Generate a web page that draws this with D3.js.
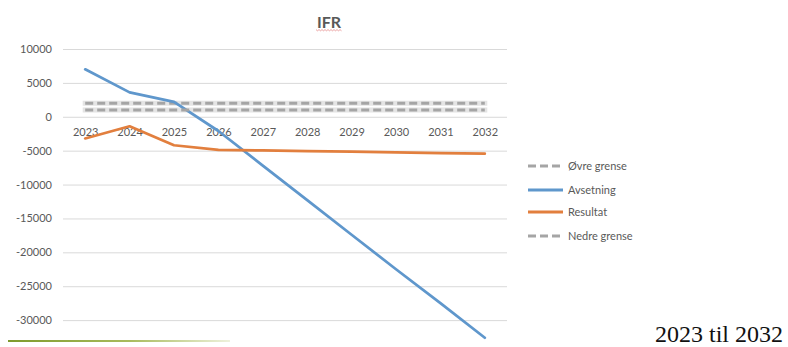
<!DOCTYPE html>
<html>
<head>
<meta charset="utf-8">
<script src="https://cdn.jsdelivr.net/npm/d3@7"></script>
<style>
  html, body { margin: 0; padding: 0; background: #fff; }
  svg { display: block; }
</style>
</head>
<body>
<svg id="chart" width="788" height="347"></svg>
<script>
// IFR projection 2023–2032
const years = ["2023","2024","2025","2026","2027","2028","2029","2030","2031","2032"];
const ovreGrense  = [2000, 2000, 2000, 2000, 2000, 2000, 2000, 2000, 2000, 2000];
const avsetning   = [7000, 3600, 2200, -2100, -7200, -12300, -17400, -22500, -27500, -32600];
const resultat    = [-3200, -1400, -4200, -4900, -4950, -5050, -5150, -5250, -5350, -5450];
const nedreGrense = [1000, 1000, 1000, 1000, 1000, 1000, 1000, 1000, 1000, 1000];
const yTicks = [10000, 5000, 0, -5000, -10000, -15000, -20000, -25000, -30000];

const series = [
  { name: "Øvre grense",  values: ovreGrense,  color: "#a5a5a5", dashed: true },
  { name: "Avsetning",    values: avsetning,   color: "#5f97cc", dashed: false },
  { name: "Resultat",     values: resultat,    color: "#e27f3e", dashed: false },
  { name: "Nedre grense", values: nedreGrense, color: "#a5a5a5", dashed: true }
];

const svg = d3.select("#chart");
const font = "Lato, 'Open Sans', sans-serif";
const textGray = "#595959";

// value axis runs to -35000, below the visible area
const x = d3.scalePoint().domain(years).range([63, 507]).padding(0.5);
const y = d3.scaleLinear().domain([-35000, 10000]).range([354, 49]);

// horizontal gridlines + value labels
const yAxis = svg.append("g")
  .attr("transform", "translate(63,0)")
  .call(d3.axisLeft(y).tickValues(yTicks).tickSize(-444).tickPadding(11).tickFormat(d => String(d)));
yAxis.select(".domain").remove();
yAxis.selectAll(".tick line").attr("stroke", "#d9d9d9").attr("stroke-width", 1);
yAxis.selectAll(".tick text")
  .attr("fill", textGray).attr("font-family", font).attr("font-size", 11);

// category labels sit just under the zero line
const xAxis = svg.append("g")
  .attr("transform", `translate(0,${y(0)})`)
  .call(d3.axisBottom(x).tickSize(0).tickPadding(11));
xAxis.select(".domain").remove();
xAxis.selectAll(".tick text")
  .attr("fill", textGray).attr("font-family", font).attr("font-size", 11);

const line = d3.line().x((d, i) => x(years[i])).y(d => y(d));

// soft underlay behind the dashed limit lines
series.filter(s => s.dashed).forEach(s => {
  svg.append("path")
    .attr("d", line(s.values))
    .attr("fill", "none")
    .attr("stroke", "#e4e4e4")
    .attr("stroke-width", 5)
    .attr("stroke-linecap", "square");
});

series.forEach(s => {
  svg.append("path")
    .attr("d", line(s.values))
    .attr("fill", "none")
    .attr("stroke", s.color)
    .attr("stroke-width", s.dashed ? 3 : 2.75)
    .attr("stroke-dasharray", s.dashed ? "8,4" : null)
    .attr("stroke-linejoin", "round")
    .attr("stroke-linecap", s.dashed ? "butt" : "round");
});

// title
svg.append("text")
  .attr("x", 329).attr("y", 28)
  .attr("text-anchor", "middle")
  .attr("font-family", font).attr("font-weight", "bold").attr("font-size", 16)
  .attr("fill", textGray)
  .text("IFR");
// spell-check squiggle under the title
const squiggle = d3.range(316, 343, 1.5).map((px, i) => [px, 30 + (i % 2 ? 0.8 : -0.4)]);
svg.append("path")
  .attr("d", d3.line()(squiggle))
  .attr("fill", "none").attr("stroke", "#e07070").attr("stroke-width", 0.8).attr("opacity", 0.8);

// legend
const legend = svg.append("g");
const legendY = [166, 190, 212, 236];
series.forEach((s, i) => {
  const g = legend.append("g").attr("transform", `translate(0,${legendY[i]})`);
  g.append("line")
    .attr("x1", 528).attr("x2", 563).attr("y1", 0).attr("y2", 0)
    .attr("stroke", s.color).attr("stroke-width", 3)
    .attr("stroke-dasharray", s.dashed ? "8,4" : null);
  g.append("text")
    .attr("x", 568).attr("y", 0).attr("dy", "0.35em")
    .attr("font-family", font).attr("font-size", 11)
    .attr("fill", textGray)
    .text(s.name);
});

// document rule below the chart
const defs = svg.append("defs");
const grad = defs.append("linearGradient").attr("id", "rule").attr("x1", "0").attr("x2", "1");
grad.append("stop").attr("offset", "0%").attr("stop-color", "#7e9a2c");
grad.append("stop").attr("offset", "55%").attr("stop-color", "#a9bb5e");
grad.append("stop").attr("offset", "100%").attr("stop-color", "#eef1dc");
svg.append("rect")
  .attr("x", 8).attr("y", 340).attr("width", 222).attr("height", 2)
  .attr("fill", "url(#rule)");

// caption
svg.append("text")
  .attr("x", 783).attr("y", 342)
  .attr("text-anchor", "end")
  .attr("font-family", "'Liberation Serif', 'Times New Roman', serif")
  .attr("font-size", 24)
  .attr("fill", "#111")
  .text("2023 til 2032");
</script>
</body>
</html>
